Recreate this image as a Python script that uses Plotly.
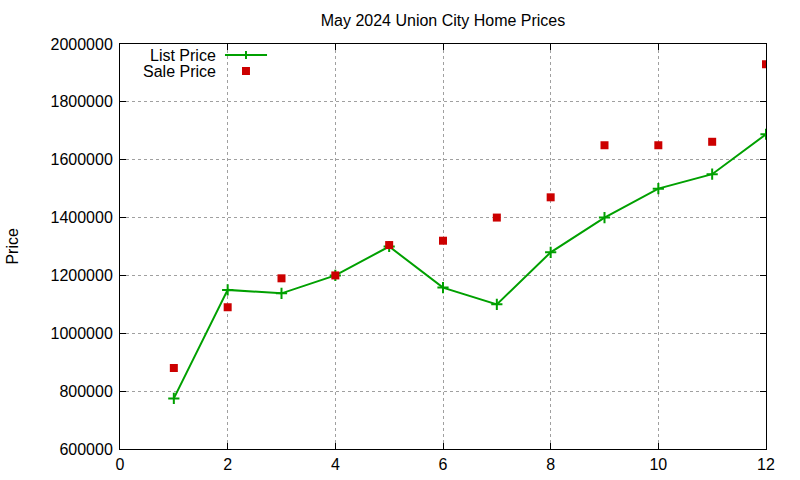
import plotly.graph_objects as go

# Données
months = [1, 2, 3, 4, 5, 6, 7, 8, 9, 10, 11, 12]
list_price = [775000, 1150000, 1138000, 1200000, 1300000, 1158000,
              1100000, 1280000, 1400000, 1500000, 1550000, 1688000]
sale_price = [880000, 1090000, 1190000, 1200000, 1305000, 1320000,
              1400000, 1470000, 1650000, 1650000, 1662000, 1930000]

x_ticks = [0, 2, 4, 6, 8, 10, 12]
y_ticks = [600000, 800000, 1000000, 1200000, 1400000, 1600000, 1800000, 2000000]

green = "#00a000"
red = "#cc0000"
font = "Liberation Sans, Arial, sans-serif"

W, H = 800, 480

fig = go.Figure()

fig.add_trace(go.Scatter(
    x=months, y=list_price, mode="lines+markers", name="List Price",
    line=dict(color=green, width=2),
    marker=dict(symbol="cross-thin", size=8, line=dict(color=green, width=2)),
))
fig.add_trace(go.Scatter(
    x=months, y=sale_price, mode="markers", name="Sale Price",
    marker=dict(symbol="square", size=8, color=red),
))

axis_common = dict(
    showgrid=True, gridcolor="#a0a0a0", griddash="dot", gridwidth=1,
    showline=True, linecolor="black", linewidth=1, mirror="ticks",
    ticks="inside", ticklen=6, tickcolor="black",
    tickfont=dict(family=font, size=16, color="black"),
    zeroline=False, automargin=False,
)

fig.update_xaxes(range=[0, 12], tickvals=x_ticks, ticklabelstandoff=1, **axis_common)
fig.update_yaxes(range=[600000, 2000000], tickvals=y_ticks, tickformat="d",
                 ticklabelstandoff=3, **axis_common)

# Légende façon gnuplot : texte à gauche, échantillon à droite
leg_x_text = 0.152
leg_x_mark = 0.195
leg_y = [0.9728, 0.9333]
fig.add_annotation(x=leg_x_text, y=leg_y[0], xref="paper", yref="paper", text="List Price",
                   showarrow=False, xanchor="right", yanchor="middle",
                   font=dict(family=font, size=16, color="black"))
fig.add_annotation(x=leg_x_text, y=leg_y[1], xref="paper", yref="paper", text="Sale Price",
                   showarrow=False, xanchor="right", yanchor="middle",
                   font=dict(family=font, size=16, color="black"))
fig.add_shape(type="line", xref="paper", yref="paper", x0=0.1625, x1=0.2276,
              y0=leg_y[0], y1=leg_y[0], line=dict(color=green, width=2))
fig.add_shape(type="line", xref="paper", yref="paper", xsizemode="pixel", xanchor=leg_x_mark,
              x0=0, x1=0, ysizemode="pixel", yanchor=leg_y[0], y0=-4, y1=4,
              line=dict(color=green, width=2))
fig.add_shape(type="rect", xref="paper", yref="paper", xsizemode="pixel", xanchor=leg_x_mark,
              x0=-4, x1=4, ysizemode="pixel", yanchor=leg_y[1], y0=-4, y1=4,
              fillcolor=red, line=dict(width=0))

# Titre de l'axe Y
fig.add_annotation(x=-0.167, y=0.5, xref="paper", yref="paper", text="Price",
                   showarrow=False, textangle=-90, xanchor="center", yanchor="middle",
                   font=dict(family=font, size=16, color="black"))

fig.update_layout(
    width=W, height=H,
    margin=dict(l=120, r=34, t=44, b=31),
    paper_bgcolor="white", plot_bgcolor="white",
    showlegend=False,
    title=dict(text="May 2024 Union City Home Prices", x=0.5, xref="paper",
               y=1 - 20 / H, yref="container", yanchor="middle", xanchor="center",
               font=dict(family=font, size=16, color="black")),
)

# pas de marge autour de la page, pas de barre d'outils
fig.write_html("out.html", config={"displayModeBar": False},
               post_script="document.body.style.margin = '0';")
